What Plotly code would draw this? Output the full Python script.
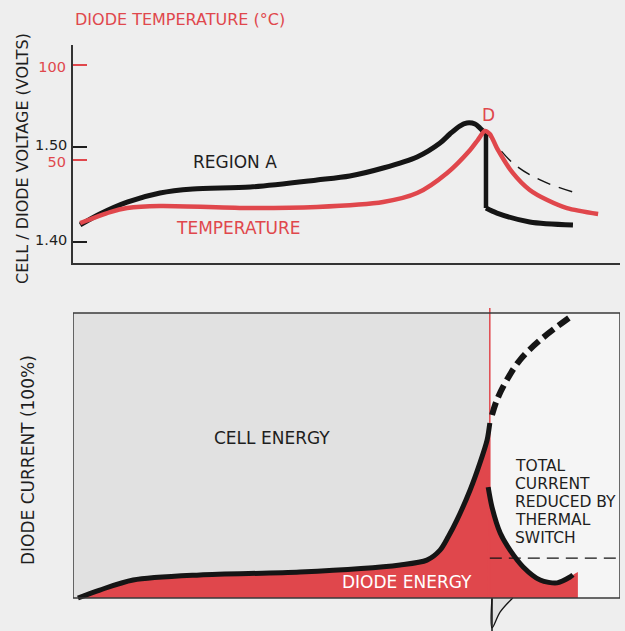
import plotly.graph_objects as go

# ---------------- data (time in arbitrary units 0..100) ----------------
# Top panel: cell / diode voltage (volts)
volt_t_pre = [1.3, 4.9, 9.9, 15.9, 21.9, 32.4, 44.6, 50.6, 56.7, 62.9, 67.1, 68.9, 70.7, 72.0, 73.5, 74.4, 75.5]
volt_v_pre = [1.418, 1.4295, 1.442, 1.4516, 1.4558, 1.4579, 1.4653, 1.4695, 1.4779, 1.4895, 1.5042, 1.5137, 1.5221, 1.5253, 1.5242, 1.520, 1.5137]
volt_t_post = [75.5, 77.5, 83.5, 91.4]
volt_v_post = [1.4358, 1.4305, 1.4211, 1.4179]
# Voltage without thermal switch (thin dashed)
volt_t_nosw = [75.7, 80.4, 85.4, 91.4]
volt_v_nosw = [1.5147, 1.4832, 1.4653, 1.4526]

# Diode temperature (deg C)
temp_t = [1.3, 6.8, 9.9, 15.9, 32.4, 44.6, 56.7, 62.9, 68.4, 72.6, 74.0, 75.3, 76.2, 77.5, 80.4, 83.5, 86.7, 90.3, 96.0]
temp_c = [16.8, 22.6, 24.7, 25.8, 24.7, 25.3, 27.9, 32.6, 43.2, 55.3, 60.5, 65.3, 63.7, 56.3, 43.2, 34.2, 28.9, 24.7, 21.6]

volt_ticks = [1.40, 1.50]
volt_ticklabels = ["1.40", "1.50"]
temp_ticks = [50, 100]
temp_ticklabels = ["50", "100"]

# Bottom panel: diode current (% of 100)
cur_t = [0.9, 4.9, 11.0, 23.2, 41.5, 59.8, 64.7, 67.1, 68.6, 70.2, 72.6, 74.4, 75.7, 76.2]
cur_i = [0.0, 2.8, 6.3, 8.1, 9.1, 11.6, 13.3, 16.8, 21.5, 27.4, 37.9, 47.4, 55.4, 61.4]
# Current if switch did not act (thick dashed)
cur_t_nosw = [76.6, 77.5, 79.3, 81.7, 85.4, 91.4]
cur_i_nosw = [64.2, 69.5, 76.5, 83.5, 90.5, 99.3]
# Current reduced by thermal switch
cur_t_sw = [75.9, 76.6, 78.1, 79.9, 82.3, 85.4, 88.5, 90.9, 91.4]
cur_i_sw = [38.9, 31.9, 22.8, 16.8, 10.9, 6.3, 5.3, 7.4, 8.1]
diode_energy_end_t = 92.3
diode_energy_end_i = 9.1

switch_t = 76.2          # thermal switch time (red line)
switch_level = 14.0      # horizontal dashed level
full_current = 100.0

# fragment of next figure below the frame
frag_t = [76.6, 76.6, 78.1, 80.4]
frag_i = [0.0, -10.5, -4.9, 0.0]
frag_line_t = [76.6, 76.6]
frag_line_i = [0.0, -11.6]

# ---------------- styles ----------------
RED = "#e0474c"
BLACK = "#151515"
TXT = "#1e1e1e"
FONT = "DejaVu Sans, sans-serif"
PAGE = "#eeeeee"
CELLGRAY = "#e1e1e1"
RIGHTBG = "#f5f5f5"

fig = go.Figure()

# ---- top panel ----
fig.add_trace(go.Scatter(x=temp_t, y=temp_c, mode="lines", yaxis="y3", xaxis="x",
                         line=dict(color=RED, width=4.5, shape="spline", smoothing=0.8)))
fig.add_trace(go.Scatter(x=volt_t_nosw, y=volt_v_nosw, mode="lines", xaxis="x", yaxis="y",
                         line=dict(color=BLACK, width=1.4, dash="14px,9px", shape="spline")))
fig.add_trace(go.Scatter(x=volt_t_pre, y=volt_v_pre, mode="lines", xaxis="x", yaxis="y",
                         line=dict(color=BLACK, width=5, shape="spline", smoothing=0.8)))
fig.add_trace(go.Scatter(x=[volt_t_pre[-1], volt_t_post[0]], y=[volt_v_pre[-1], volt_v_post[0]],
                         mode="lines", xaxis="x", yaxis="y", line=dict(color=BLACK, width=4.5)))
fig.add_trace(go.Scatter(x=volt_t_post, y=volt_v_post, mode="lines", xaxis="x", yaxis="y",
                         line=dict(color=BLACK, width=5, shape="spline", smoothing=0.8)))

# ---- bottom panel ----
# backgrounds
fig.add_trace(go.Scatter(x=[switch_t, switch_t, 100, 100], y=[0, full_current, full_current, 0],
                         mode="none", fill="toself", fillcolor=RIGHTBG, xaxis="x2", yaxis="y2"))
fig.add_trace(go.Scatter(x=[0, 0, switch_t, switch_t], y=[0, full_current, full_current, 0],
                         mode="none", fill="toself", fillcolor=CELLGRAY, xaxis="x2", yaxis="y2"))
# diode energy fills (follow the curves)
fig.add_trace(go.Scatter(x=cur_t, y=cur_i, mode="lines", fill="tozeroy", fillcolor=RED,
                         xaxis="x2", yaxis="y2",
                         line=dict(width=0, color=RED, shape="spline", smoothing=0.8)))
fig.add_trace(go.Scatter(x=[switch_t] + cur_t_sw[1:] + [diode_energy_end_t],
                         y=[cur_i_sw[0]] + cur_i_sw[1:] + [diode_energy_end_i],
                         mode="lines", fill="tozeroy", fillcolor=RED, xaxis="x2", yaxis="y2",
                         line=dict(width=0, color=RED, shape="spline", smoothing=0.8)))
fig.add_trace(go.Scatter(x=[cur_t[-2], switch_t, switch_t], y=[0, 0, cur_i[-1]],
                         mode="none", fill="toself", fillcolor=RED, xaxis="x2", yaxis="y2"))
# switch line
fig.add_trace(go.Scatter(x=[switch_t, switch_t], y=[0, 101.8], mode="lines", xaxis="x2", yaxis="y2",
                         line=dict(color=RED, width=1.5)))
# horizontal dashed level
fig.add_trace(go.Scatter(x=[switch_t, 100], y=[switch_level, switch_level], mode="lines",
                         xaxis="x2", yaxis="y2", line=dict(color=BLACK, width=1.4, dash="12px,7px")))
# current curves
fig.add_trace(go.Scatter(x=cur_t, y=cur_i, mode="lines", xaxis="x2", yaxis="y2",
                         line=dict(color=BLACK, width=5, shape="spline", smoothing=0.8)))
fig.add_trace(go.Scatter(x=cur_t_nosw, y=cur_i_nosw, mode="lines", xaxis="x2", yaxis="y2",
                         line=dict(color=BLACK, width=6, dash="13px,6px", shape="spline")))
fig.add_trace(go.Scatter(x=cur_t_sw, y=cur_i_sw, mode="lines", xaxis="x2", yaxis="y2",
                         line=dict(color=BLACK, width=5, shape="spline", smoothing=0.8)))
# fragment below frame
fig.add_trace(go.Scatter(x=frag_t, y=frag_i, mode="lines", fill="toself", fillcolor=CELLGRAY,
                         xaxis="x2", yaxis="y2", line=dict(color=BLACK, width=1.3, shape="spline")))
fig.add_trace(go.Scatter(x=frag_line_t, y=frag_line_i, mode="lines", xaxis="x2", yaxis="y2",
                         line=dict(color=BLACK, width=1.5)))

# frame
fig.add_shape(type="rect", xref="x2", yref="y2", x0=0, x1=100, y0=0, y1=full_current,
              line=dict(color="#3a3a3a", width=1.5), layer="above")

W, H = 625, 631
xdom = [73 / W, 620 / W]

fig.update_layout(
    width=W, height=H, margin=dict(l=0, r=0, t=0, b=0),
    paper_bgcolor=PAGE, plot_bgcolor="rgba(0,0,0,0)", showlegend=False,
    font=dict(family=FONT, color=TXT, size=17),
    xaxis=dict(domain=xdom, range=[0, 100], anchor="y", showline=True, linecolor="#333",
               linewidth=1.5, showticklabels=False, ticks="", showgrid=False, zeroline=False),
    yaxis=dict(domain=[(H - 263) / H, (H - 45) / H], range=[1.3779, 1.6074], anchor="x",
               tickvals=volt_ticks, ticktext=volt_ticklabels, ticks="inside", ticklen=14,
               tickwidth=1.5, tickcolor=TXT, showline=True, linecolor="#333", linewidth=1.5,
               showgrid=False, zeroline=False, ticklabelstandoff=1, ticklabelshift=-2,
               tickfont=dict(size=14.5, color=TXT, family=FONT)),
    yaxis3=dict(overlaying="y", side="left", anchor="x", range=[-4.21, 110.53],
                tickvals=temp_ticks, ticktext=temp_ticklabels, ticks="inside", ticklen=14,
                tickwidth=1.5, tickcolor=RED, showline=False, showgrid=False, zeroline=False,
                ticklabelstandoff=6, ticklabelshift=2,
                tickfont=dict(size=14.5, color=RED, family=FONT)),
    xaxis2=dict(domain=xdom, range=[0, 100], anchor="y2", visible=False),
    yaxis2=dict(domain=[0, 325 / H], range=[-11.58, 102.46], anchor="x2", visible=False),
)

ann = []
def txt(text, x, y, xref, yref, color=TXT, size=17, angle=0, xanchor="center"):
    ann.append(dict(text=text, x=x, y=y, xref=xref, yref=yref, showarrow=False,
                    font=dict(color=color, size=size, family=FONT), textangle=angle,
                    xanchor=xanchor, yanchor="middle", borderpad=0))

txt("DIODE TEMPERATURE (°C)", 74 / W, 1 - 19 / H, "paper", "paper", color=RED, size=16, xanchor="left")
txt("CELL / DIODE VOLTAGE (VOLTS)", 23 / W, 1 - 159 / H, "paper", "paper", size=16, angle=-90)
txt("DIODE CURRENT (100%)", 28 / W, 1 - 460 / H, "paper", "paper", angle=-90)
txt("REGION A", 29.6, 1.4842, "x", "y")
txt("TEMPERATURE", 30.2, 1.4147, "x", "y", color=RED)
txt("D", 76.0, 1.5337, "x", "y", color=RED)
txt("CELL ENERGY", 36.4, 56.1, "x2", "y2")
txt("DIODE ENERGY", 61.1, 5.6, "x2", "y2", color="#ffffff")
for line, yv in zip(["TOTAL", "CURRENT", "REDUCED BY", "THERMAL", "SWITCH"],
                    [46.4, 40.1, 33.8, 27.5, 21.2]):
    txt(line, 80.6, yv, "x2", "y2", size=15.5, xanchor="left")
fig.update_layout(annotations=ann)

fig.write_html("out.html", config={"displayModeBar": False},
               post_script="document.body.style.margin='0px';")
